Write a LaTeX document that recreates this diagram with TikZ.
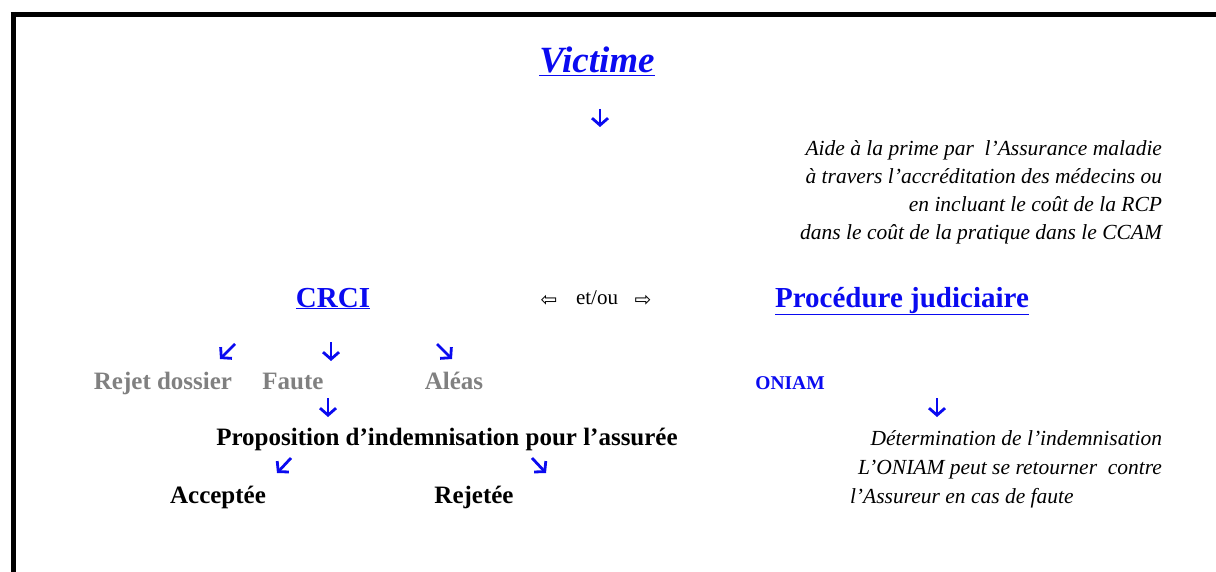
\documentclass[tikz,border=0pt]{standalone}
\usepackage{fontspec}
\setmainfont{Liberation Serif}
\newfontfamily\symfont{DejaVu Sans}
\usetikzlibrary{arrows.meta}
\definecolor{lnkblue}{RGB}{10,10,240}
\definecolor{greytxt}{RGB}{128,128,128}
\tikzset{
  every node/.style={inner sep=0pt, outer sep=0pt, anchor=base},
  ttl/.style={text=lnkblue, font=\fontsize{29}{32}\selectfont\bfseries},
  grey/.style={text=greytxt, font=\fontsize{25}{28}\selectfont\bfseries},
  blk/.style={text=black, font=\fontsize{25}{28}\selectfont\bfseries},
  note/.style={text=black, font=\fontsize{21.5}{24}\selectfont\itshape, anchor=base east},
  arr/.style={draw=lnkblue, line width=2.8pt, -{Straight Barb[length=7pt,width=16pt,line width=2.8pt]}},
}
\begin{document}
\begin{tikzpicture}[x=1pt,y=-1pt]
\useasboundingbox (0,0) rectangle (1216,572);
% frame
\draw[line width=5pt] (10.5,14.5) -- (1216,14.5);
\draw[line width=5pt] (13.5,12) -- (13.5,572);

\node[text=lnkblue, font=\fontsize{37}{40}\selectfont\bfseries\itshape] (vic) at (597,73) {\underline{Victime}};
\coordinate (a1s) at (600,109); \coordinate (a1e) at (600,127);
\draw[arr] (a1s) -- (a1e);

\node[note] (n1) at (1162,156) {Aide à la prime par~ l’Assurance maladie};
\node[note] (n2) at (1162,184) {à travers l’accréditation des médecins ou};
\node[note] (n3) at (1162,212) {en incluant le coût de la RCP};
\node[note] (n4) at (1162,240) {dans le coût de la pratique dans le CCAM};

\node[ttl] (crci) at (333,307) {\underline{CRCI}};
\node[font=\fontsize{20}{22}\selectfont\symfont] (la) at (549,306) {⇦};
\node[font=\fontsize{21}{24}\selectfont] (etou) at (597,305) {et/ou};
\node[font=\fontsize{20}{22}\selectfont\symfont] (ra) at (643,306) {⇨};
\node[ttl] (proc) at (902,307) {\underline{Procédure judiciaire}};

\coordinate (b1s) at (235,344); \coordinate (b1e) at (220,359);
\coordinate (b2s) at (331,342); \coordinate (b2e) at (331,361);
\coordinate (b3s) at (437,344); \coordinate (b3e) at (452,359);
\draw[arr] (b1s) -- (b1e);
\draw[arr] (b2s) -- (b2e);
\draw[arr] (b3s) -- (b3e);

\node[grey] (rej) at (163,389) {Rejet dossier};
\node[grey] (fau) at (293,389) {Faute};
\node[grey] (ale) at (454,389) {Aléas};
\node[text=lnkblue, font=\fontsize{19.5}{22}\selectfont\bfseries] (oni) at (790,389) {ONIAM};

\coordinate (c1s) at (328,398); \coordinate (c1e) at (328,417);
\draw[arr] (c1s) -- (c1e);
\coordinate (c2s) at (937,398); \coordinate (c2e) at (937,417);
\draw[arr] (c2s) -- (c2e);

\node[blk] (prop) at (447,445) {Proposition d’indemnisation pour l’assurée};
\node[note] (d1) at (1162,445) {Détermination de l’indemnisation};
\node[note] (d2) at (1162,474) {L’ONIAM peut se retourner~ contre};
\node[note, anchor=base west] (d3) at (850,503) {l’Assureur en cas de faute};

\coordinate (e1s) at (291,458); \coordinate (e1e) at (277,473);
\coordinate (e2s) at (532,458); \coordinate (e2e) at (546,473);
\draw[arr] (e1s) -- (e1e);
\draw[arr] (e2s) -- (e2e);

\node[blk] (acc) at (218,503) {Acceptée};
\node[blk] (rjt) at (474,503) {Rejetée};
\end{tikzpicture}
\end{document}
